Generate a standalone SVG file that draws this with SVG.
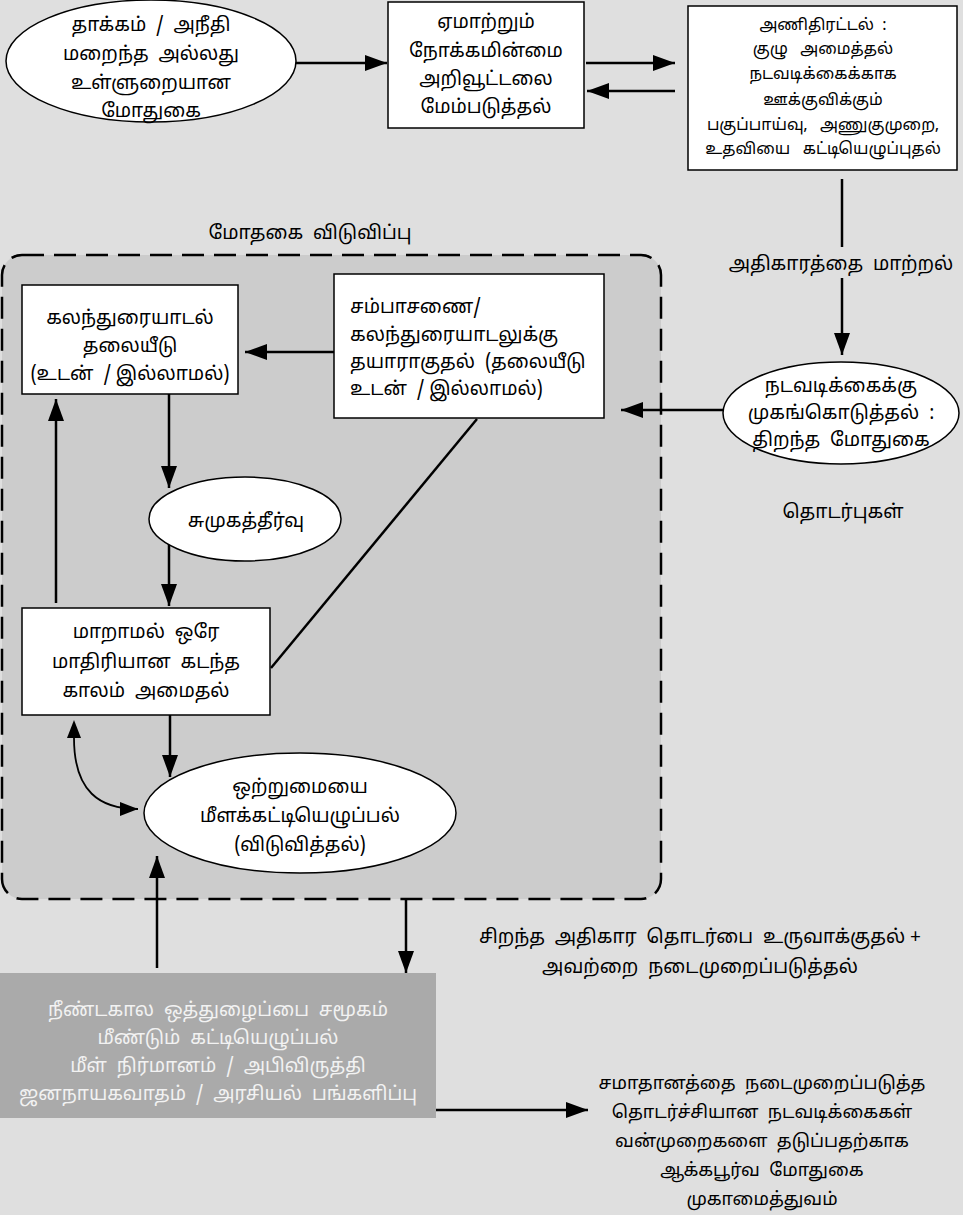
<svg xmlns="http://www.w3.org/2000/svg" width="963" height="1215" viewBox="0 0 963 1215">
<style>
text{font-family:"Noto Sans Tamil","Noto Sans",sans-serif;font-size:19px;fill:#000;text-anchor:middle;white-space:pre}
.sm{font-size:16px}
.md{font-size:18px}
.lt{text-anchor:start}
.wt{fill:#f2f2f2}
.box{fill:#fff;stroke:#000;stroke-width:1.5}
.ln{stroke:#000;stroke-width:2.5;fill:none}
.ar{stroke:#000;stroke-width:2.5;fill:none;marker-end:url(#ah)}
</style>
<defs>
<marker id="ah" markerUnits="userSpaceOnUse" markerWidth="22" markerHeight="16" refX="22" refY="8" orient="auto">
<path d="M0,0 L22,8 L0,16 z" fill="#000"/>
</marker>
<marker id="ahc" markerUnits="userSpaceOnUse" markerWidth="18" markerHeight="14" refX="18" refY="7" orient="auto">
<path d="M0,0 L18,7 L0,14 z" fill="#000"/>
</marker>
<marker id="ahcs" markerUnits="userSpaceOnUse" markerWidth="18" markerHeight="14" refX="18" refY="7" orient="auto">
<path d="M18,0 L0,7 L18,14 z" fill="#000"/>
</marker>
</defs>
<rect x="0" y="0" width="963" height="1215" fill="#dfdfdf"/>
<g id="release-region">
<rect x="2" y="255" width="659" height="644" rx="20" ry="20" fill="#cccccc" stroke="#000" stroke-width="2.5" stroke-dasharray="22 10"/>
<text x="310" y="239">மோதகை  விடுவிப்பு</text>
</g>
<g id="connectors">
<line class="ar" x1="296" y1="63" x2="387" y2="63"/>
<line class="ar" x1="586" y1="63" x2="675" y2="63"/>
<line class="ar" x1="675" y1="91" x2="587" y2="91"/>
<line class="ln" x1="842" y1="179" x2="842" y2="247"/>
<line class="ar" x1="842" y1="278" x2="842" y2="355"/>
<line class="ar" x1="724" y1="410" x2="621" y2="410"/>
<line class="ar" x1="334" y1="352" x2="245" y2="352"/>
<line class="ar" x1="169" y1="394" x2="169" y2="488"/>
<line class="ar" x1="169" y1="543" x2="169" y2="606"/>
<line class="ar" x1="56" y1="603" x2="56" y2="399"/>
<line class="ln" x1="477" y1="419" x2="271" y2="668"/>
<line class="ar" x1="170" y1="715" x2="170" y2="777"/>
<path d="M74,738 C74,792 100,809 138,809" fill="none" stroke="#000" stroke-width="1.8" marker-start="url(#ahcs)" marker-end="url(#ahc)"/>
<line class="ar" x1="157" y1="968" x2="157" y2="856"/>
<line class="ar" x1="406" y1="899" x2="406" y2="973"/>
<line class="ar" x1="436" y1="1110" x2="588" y2="1110"/>
<text x="841" y="270">அதிகாரத்தை  மாற்றல்</text>
<text x="700" y="943">சிறந்த  அதிகார  தொடர்பை  உருவாக்குதல் +</text>
<text x="700" y="973">அவற்றை  நடைமுறைப்படுத்தல்</text>
</g>
<g id="n-conflict">
<ellipse class="box" cx="151" cy="61" rx="145" ry="61"/>
<text x="151" y="31">தாக்கம்  /  அநீதி</text>
<text x="151" y="60">மறைந்த  அல்லது</text>
<text x="151" y="89">உள்ளுறையான</text>
<text x="151" y="117">மோதுகை</text>
</g>
<g id="n-awareness">
<rect class="box" x="388" y="2" width="196" height="126"/>
<text x="486" y="28">ஏமாற்றும்</text>
<text x="486" y="57">நோக்கமின்மை</text>
<text x="486" y="85">அறிவூட்டலை</text>
<text x="486" y="113">மேம்படுத்தல்</text>
</g>
<g id="n-mobilise">
<rect class="box" x="688" y="6" width="269" height="164"/>
<text class="sm" x="823" y="30">அணிதிரட்டல்  :</text>
<text class="sm" x="823" y="54">குழு   அமைத்தல்</text>
<text class="sm" x="823" y="79">நடவடிக்கைக்காக</text>
<text class="sm" x="823" y="105">ஊக்குவிக்கும்</text>
<text class="sm" x="823" y="130">பகுப்பாய்வு,   அணுகுமுறை,</text>
<text class="sm" x="823" y="154">உதவியை   கட்டியெழுப்புதல்</text>
</g>
<g id="n-open-conflict">
<ellipse class="box" cx="841" cy="413" rx="118" ry="51"/>
<text x="841" y="392">நடவடிக்கைக்கு</text>
<text x="841" y="419">முகங்கொடுத்தல்  :</text>
<text x="841" y="446">திறந்த  மோதுகை</text>
</g>
<g id="n-contacts">
<text x="843" y="518">தொடர்புகள்</text>
</g>
<g id="n-intervention">
<rect class="box" x="22" y="285" width="216" height="109"/>
<text x="130" y="324">கலந்துரையாடல்</text>
<text x="130" y="352">தலையீடு</text>
<text x="130" y="380">(உடன்  / இல்லாமல்)</text>
</g>
<g id="n-negotiation">
<rect class="box" x="334" y="274" width="270" height="144"/>
<text class="lt" x="350" y="313">சம்பாசணை/</text>
<text class="lt" x="350" y="341">கலந்துரையாடலுக்கு</text>
<text class="lt" x="350" y="368">தயாராகுதல்  (தலையீடு</text>
<text class="lt" x="350" y="395">உடன்  / இல்லாமல்)</text>
</g>
<g id="n-settlement">
<ellipse class="box" cx="245" cy="519" rx="96" ry="42"/>
<text x="246" y="527">சுமுகத்தீர்வு</text>
</g>
<g id="n-peace">
<rect class="box" x="22" y="608" width="248" height="107"/>
<text x="146" y="638">மாறாமல்  ஒரே</text>
<text x="146" y="668">மாதிரியான  கடந்த</text>
<text x="146" y="697">காலம்  அமைதல்</text>
</g>
<g id="n-reconcile">
<ellipse class="box" cx="300" cy="813" rx="156" ry="60"/>
<text x="300" y="793">ஒற்றுமையை</text>
<text x="300" y="822">மீளக்கட்டியெழுப்பல்</text>
<text x="300" y="851">(விடுவித்தல்)</text>
</g>
<g id="n-longterm">
<rect x="0" y="973" width="436" height="145" fill="#aaaaaa"/>
<text class="wt" x="218" y="1016">நீண்டகால  ஒத்துழைப்பை  சமூகம்</text>
<text class="wt" x="218" y="1044">மீண்டும்  கட்டியெழுப்பல்</text>
<text class="wt" x="218" y="1072">மீள்  நிர்மானம்  /  அபிவிருத்தி</text>
<text class="wt" x="218" y="1100">ஜனநாயகவாதம்  /  அரசியல்  பங்களிப்பு</text>
</g>
<g id="n-outcome">
<text class="md" x="762" y="1089">சமாதானத்தை  நடைமுறைப்படுத்த</text>
<text class="md" x="762" y="1118">தொடர்ச்சியான  நடவடிக்கைகள்</text>
<text class="md" x="762" y="1147">வன்முறைகளை  தடுப்பதற்காக</text>
<text class="md" x="762" y="1176">ஆக்கபூர்வ  மோதுகை</text>
<text class="md" x="762" y="1205">முகாமைத்துவம்</text>
</g>
</svg>
